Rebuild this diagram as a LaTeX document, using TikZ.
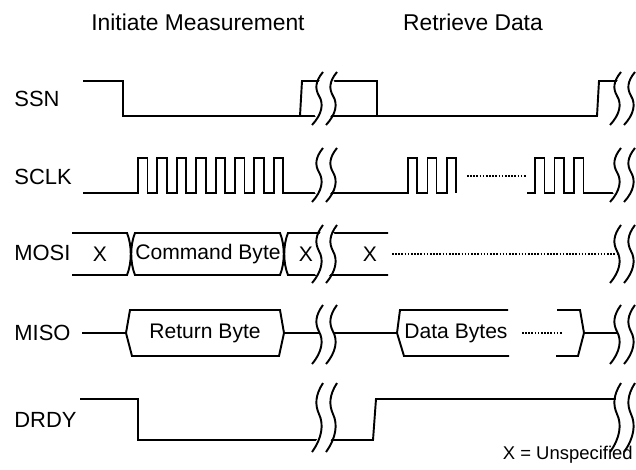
\documentclass[tikz,border=0pt]{standalone}
\usepackage{fontspec}
\setmainfont{Liberation Sans}
% one wavy break line: centre x, top y, bottom y
\newcommand{\brkcurve}[3]{({(#1)+5},{#2}) .. controls ({(#1)-3},{(#2)+0.18*((#3)-(#2))}) and ({(#1)-3},{(#2)+0.32*((#3)-(#2))}) .. ({(#1)+1},{(#2)+0.45*((#3)-(#2))}) .. controls ({(#1)+6},{(#2)+0.6*((#3)-(#2))}) and ({(#1)+4},{(#2)+0.8*((#3)-(#2))}) .. ({(#1)-6},{#3})}
% pair of break lines with the gap cleared
\newcommand{\brk}[3]{%
  \draw[white, line width=7pt] \brkcurve{(#1)+7}{(#2)+5}{(#3)-5};
  \draw[SIG] \brkcurve{#1}{#2}{#3};
  \draw[SIG] \brkcurve{(#1)+14}{#2}{#3};
}
\begin{document}
\begin{tikzpicture}
[
 x=0.02cm, y=-0.02cm,
 SIG/.style={draw=black, line width=1.1pt},
 DOTS/.style={draw=black, line width=0.8pt, dash pattern=on 0.9pt off 0.9pt},
 LBL/.style={inner sep=0pt, anchor=west, font=\fontsize{12.5}{14}\selectfont},
 TXT/.style={inner sep=0pt, font=\fontsize{12}{14}\selectfont},
 TTL/.style={inner sep=0pt, font=\fontsize{13}{15}\selectfont},
 ]
\useasboundingbox (0,0) rectangle (636,470);
%
\node [TTL]  (TI)   at (198,22)  {Initiate Measurement};
\node [TTL]  (TR)   at (473,22)  {Retrieve Data};
%
\node [LBL]  (SSN)  at (14,99)   {SSN};
\node [LBL]  (SCLK) at (14,177)  {SCLK};
\node [LBL]  (MOSI) at (14,253)  {MOSI};
\node [LBL]  (MISO) at (14,333)  {MISO};
\node [LBL]  (DRDY) at (14,420)  {DRDY};
%
% SSN
\draw [SIG] (83,81) -- (123,81) -- (123,116) -- (597,116) -- (599,81) -- (623,81);
\draw [SIG] (300,116) -- (302,81) -- (377,81) -- (377,116);
%
% SCLK
\draw [SIG] (83,193) -- (138,193)
   \foreach \i in {1,...,8} { -- ++(0,-35) -- ++(9.5,0) -- ++(0,35) -- ++(9.9,0) }
   -- (330,193);
\draw [SIG] (330,193) -- (408,193)
   \foreach \i in {1,2} { -- ++(0,-35) -- ++(9,0) -- ++(0,35) -- ++(10.5,0) }
   -- ++(0,-35) -- ++(9,0) -- ++(0,35);
\draw [DOTS] (467,176) -- (527,176);
\draw [SIG] (527,193) -- (535,193)
   \foreach \i in {1,2,3} { -- ++(0,-35) -- ++(9.5,0) -- ++(0,35) -- ++(10,0) }
   -- (623,193);
%
% MOSI
\draw [SIG] (72,233) -- (127,233) .. controls (132,245) and (132,263) .. (127,275) -- (72,275);
\draw [SIG] (135,233) -- (280,233) .. controls (285,245) and (285,263) .. (280,275) -- (135,275)
   .. controls (130,263) and (130,245) .. (135,233) -- cycle;
\draw [SIG] (388,233) -- (288,233) .. controls (283,245) and (283,263) .. (288,275) -- (388,275);
\draw [DOTS] (392,254) -- (623,254);
\node [TXT]  (XA)   at (100,254) {X};
\node [TXT]  (CMD)  at (208,254) {Command Byte};
\node [TXT]  (XB)   at (306,254) {X};
\node [TXT]  (XC)   at (370,254) {X};
%
% MISO
\draw [SIG] (82,333) -- (126,333);
\draw [SIG] (126,333) -- (130,310) -- (280,310) -- (284,333) -- (279,356) -- (132,356) -- cycle;
\draw [SIG] (284,333) -- (397,333);
\draw [SIG] (508,310) -- (400,310) -- (397,333) -- (404,356) -- (509,356);
\draw [DOTS] (522,333) -- (563,333);
\draw [SIG] (557,310) -- (580,310) -- (584,333) -- (578,356) -- (556,356);
\draw [SIG] (584,333) -- (623,333);
\node [TXT]  (RET)  at (205,333) {Return Byte};
\node [TXT]  (DAT)  at (456,333) {Data Bytes};
%
% DRDY
\draw [SIG] (80,399) -- (138,399) -- (138,440) -- (373,440) -- (376,399) -- (623,399);
%
% breaks
\brk{318}{72}{125}
\brk{318}{148}{202}
\brk{318}{225}{283}
\brk{318}{305}{364}
\brk{318}{383}{452}
\brk{616}{72}{125}
\brk{616}{148}{202}
\brk{616}{225}{283}
\brk{616}{305}{364}
\brk{616}{383}{452}
%
\node [TXT, anchor=east, font=\fontsize{10.5}{12}\selectfont]  (NOTE) at (633,455) {X = Unspecified};
\end{tikzpicture}
\end{document}
